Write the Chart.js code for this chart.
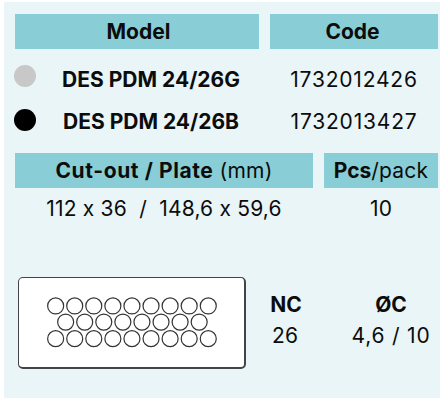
<!DOCTYPE html>
<html lang="en">
<head>
    <meta charset="UTF-8">
    <title>DES PDM 24/26</title>
    <script src="https://cdn.jsdelivr.net/npm/chart.js"></script>
    <style>
        html, body { margin: 0; padding: 0; background: #fff; }
        body { width: 440px; height: 398px; overflow: hidden; position: relative; font-family: Inter, Arial, sans-serif; color: #0c0c0c; font-feature-settings: "calt" 0; }
        #panel { position: absolute; left: 4px; top: 2px; width: 436px; height: 396px; background: #e9f5f7; }
        .cell, .head, .dot { position: absolute; }
        .cell, .head { text-align: center; white-space: nowrap; font-size: 21px; line-height: 24px; letter-spacing: 0.2px; }
        .head { background: #89ced6; height: 35px; line-height: 35px; }
        .code { letter-spacing: 0.8px; }
        b, .bold { font-weight: 700; letter-spacing: 0; }
        .wide { letter-spacing: 0.6px; }
        .dot { width: 22px; height: 22px; border-radius: 50%; left: 14px; }
        #plate { position: absolute; left: 18px; top: 277px; width: 225px; height: 89px; background: #fff; border: 1px solid #444; border-right-width: 2px; border-bottom-width: 2px; border-radius: 5px; }
        #plate canvas { display: block; }
    </style>
</head>
<body>
    <div id="panel"></div>
    <div class="head" style="left:15px;top:14px;width:244px;text-indent:3px"><b>Model</b></div>
    <div class="head" style="left:270px;top:14px;width:168px;text-indent:-3px"><b>Code</b></div>
    <div id="rows"></div>
    <div class="head" style="left:15px;top:153px;width:298px"><b class="wide">Cut-out / Plate</b> (mm)</div>
    <div class="head" style="left:324px;top:153px;width:114px"><b>Pcs</b>/pack</div>
    <div class="cell" style="left:15px;top:197px;width:298px" id="sizes"></div>
    <div class="cell" style="left:324px;top:197px;width:114px" id="pack"></div>
    <div id="plate"><canvas id="holes" width="225" height="89"></canvas></div>
    <div class="cell bold" style="left:256px;top:293px;width:60px">NC</div>
    <div class="cell" style="left:255px;top:324px;width:60px" id="nc"></div>
    <div class="cell bold" style="left:341px;top:293px;width:100px">ØC</div>
    <div class="cell code" style="left:341px;top:324px;width:100px" id="oc"></div>

    <script>
        // Table contents
        const models = ["DES PDM 24/26G", "DES PDM 24/26B"];
        const codes = ["1732012426", "1732013427"];
        const finishes = ["#c8c8c8", "#000000"];
        const cutout = "112 x 36  /  148,6 x 59,6";
        const pcsPerPack = "10";
        const contactCount = "26";
        const contactDiameter = "4,6 / 10";

        // Plate size and hole centres, mm from the bottom left corner
        const plateWidth = 148.6;
        const plateHeight = 59.6;
        const topRowX = [24.2, 36.8, 49.4, 62.0, 74.6, 87.2, 99.8, 112.4, 125.0];
        const middleRowX = [30.8, 43.4, 56.0, 68.6, 81.2, 93.8, 106.4, 119.0];
        const bottomRowX = [24.2, 36.8, 49.4, 62.0, 74.6, 87.2, 99.8, 112.4, 125.0];
        const topRowY = 40.9;
        const middleRowY = 30.1;
        const bottomRowY = 19.0;

        // Fill in the rows
        const rows = document.getElementById("rows");
        models.forEach((model, i) => {
            const top = 68 + i * 42;
            rows.innerHTML += `
                <div class="dot" style="top:${65 + i * 44}px;background:${finishes[i]}"></div>
                <div class="cell bold" style="left:50px;top:${top}px;width:202px">${model}</div>
                <div class="cell code" style="left:270px;top:${top}px;width:168px">${codes[i]}</div>
            `;
        });
        document.getElementById("sizes").textContent = cutout;
        document.getElementById("sizes").style.whiteSpace = "pre";
        document.getElementById("pack").textContent = pcsPerPack;
        document.getElementById("nc").textContent = contactCount;
        document.getElementById("oc").textContent = contactDiameter;

        const toPoints = (xs, y) => xs.map(x => ({ x: x, y: y }));

        new Chart(document.getElementById("holes").getContext("2d"), {
            type: "scatter",
            data: {
                datasets: [
                    { label: "Top row", data: toPoints(topRowX, topRowY) },
                    { label: "Middle row", data: toPoints(middleRowX, middleRowY) },
                    { label: "Bottom row", data: toPoints(bottomRowX, bottomRowY) }
                ]
            },
            options: {
                responsive: false,
                animation: false,
                layout: { padding: 0, autoPadding: false },
                elements: {
                    point: { radius: 8, backgroundColor: "#ffffff", borderColor: "#333333", borderWidth: 1.2 }
                },
                plugins: { legend: { display: false }, tooltip: { enabled: false } },
                scales: {
                    x: { display: false, min: 0, max: plateWidth },
                    y: { display: false, min: 0, max: plateHeight }
                }
            }
        });
    </script>
</body>
</html>
